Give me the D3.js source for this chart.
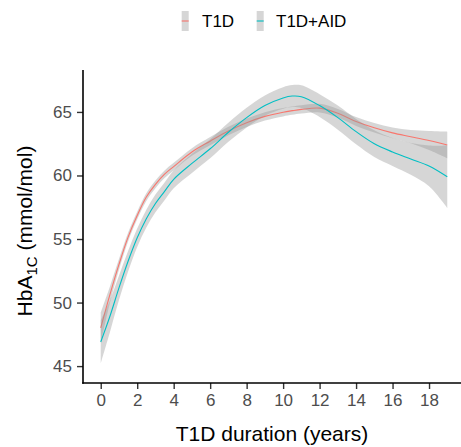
<!DOCTYPE html>
<html>
<head>
<meta charset="utf-8">
<script src="https://cdn.jsdelivr.net/npm/d3@7"></script>
<style>
  html, body { margin: 0; padding: 0; background: #fff; }
  svg { display: block; font-family: "Liberation Sans", Arial, Helvetica, sans-serif; }
</style>
</head>
<body>
<svg id="chart" width="461" height="447"></svg>
<script>
// ---- data ----
const durations = [0, 0.5, 1, 1.5, 2, 2.5, 3, 3.5, 4, 5, 6, 7, 8, 9, 10, 10.5, 11, 12, 13, 14, 15, 16, 17, 18, 19];

const t1dMean = [48.0, 50.6, 53.0, 55.15, 56.85, 58.3, 59.3, 60.1, 60.7, 61.85, 62.7, 63.5, 64.15, 64.65, 64.98, 65.1, 65.2, 65.3, 64.9, 64.25, 63.75, 63.35, 63.05, 62.75, 62.4];
const t1dSe   = [1.2, 0.65, 0.42, 0.34, 0.3, 0.3, 0.3, 0.3, 0.3, 0.3, 0.32, 0.33, 0.33, 0.33, 0.33, 0.33, 0.33, 0.34, 0.34, 0.35, 0.37, 0.42, 0.52, 0.75, 1.05];

const aidMean = [46.9, 48.9, 51.15, 53.25, 55.1, 56.6, 57.8, 58.75, 59.7, 60.95, 62.1, 63.4, 64.55, 65.5, 66.1, 66.25, 66.2, 65.5, 64.55, 63.45, 62.5, 61.85, 61.3, 60.75, 59.9];
const aidSe   = [1.7, 1.25, 0.95, 0.8, 0.72, 0.7, 0.7, 0.7, 0.7, 0.75, 0.75, 0.75, 0.78, 0.8, 0.85, 0.87, 0.9, 0.9, 0.95, 1.0, 1.05, 1.1, 1.25, 1.6, 2.45];

const seriesNames = ["T1D", "T1D+AID"];
const seriesColors = ["#F8766D", "#00BFC4"];
const xTicks = [0, 2, 4, 6, 8, 10, 12, 14, 16, 18];
const yTicks = [45, 50, 55, 60, 65];

// ---- build ----
const series = [
  { name: seriesNames[0], color: seriesColors[0], mean: t1dMean, se: t1dSe },
  { name: seriesNames[1], color: seriesColors[1], mean: aidMean, se: aidSe }
].map(s => ({
  ...s,
  pts: durations.map((d, i) => ({ x: d, y: s.mean[i], lo: s.mean[i] - s.se[i], hi: s.mean[i] + s.se[i] }))
}));

const svg = d3.select("#chart");
const x = d3.scaleLinear().domain([-0.95, 19.95]).range([83.4, 464.6]);
const y = d3.scaleLinear().domain([43.67, 68.3]).range([383, 70]);

const ribbonFill = "#999999";
const curve = d3.curveCatmullRom.alpha(0.5);

const area = d3.area().curve(curve).x(d => x(d.x)).y0(d => y(d.lo)).y1(d => y(d.hi));
const line = d3.line().curve(curve).x(d => x(d.x)).y(d => y(d.y));

const plot = svg.append("g");
series.forEach(s => {
  plot.append("path").datum(s.pts).attr("d", area)
    .attr("fill", ribbonFill).attr("fill-opacity", 0.4).attr("stroke", "none");
  plot.append("path").datum(s.pts).attr("d", line)
    .attr("fill", "none").attr("stroke", s.color).attr("stroke-width", 1.1);
});

// axes
const axisColor = "#000";
const tickColor = "#4D4D4D";

const xAxis = svg.append("g").attr("transform", `translate(0,${y.range()[0]})`)
  .call(d3.axisBottom(x).tickValues(xTicks).tickSize(6).tickPadding(5).tickSizeOuter(0));
xAxis.select(".domain").remove();
svg.append("line").attr("x1", 82.2).attr("x2", 461).attr("y1", y.range()[0]).attr("y2", y.range()[0])
  .attr("stroke", axisColor).attr("stroke-width", 1.6);

const yAxis = svg.append("g").attr("transform", `translate(${x.range()[0] - 0.4},0)`)
  .call(d3.axisLeft(y).tickValues(yTicks).tickSize(6).tickPadding(5).tickSizeOuter(0));
yAxis.select(".domain").remove();
svg.append("line").attr("x1", 83).attr("x2", 83).attr("y1", 70).attr("y2", y.range()[0] + 0.8)
  .attr("stroke", axisColor).attr("stroke-width", 1.6);

[xAxis, yAxis].forEach(g => {
  g.selectAll(".tick line").attr("stroke", "#333").attr("stroke-width", 1.4);
  g.selectAll(".tick text").attr("fill", tickColor).style("font-size", "17px")
    .style("font-family", '"Liberation Sans", Arial, sans-serif');
});

// axis titles
svg.append("text").attr("x", 272).attr("y", 441).attr("text-anchor", "middle")
  .style("font-size", "21px").attr("fill", "#000").text("T1D duration (years)");

const yl = svg.append("text").attr("transform", "translate(32,231) rotate(-90)")
  .attr("text-anchor", "middle").style("font-size", "21px").attr("fill", "#000");
yl.append("tspan").text("HbA");
yl.append("tspan").attr("dy", 5).style("font-size", "15px").text("1C");
yl.append("tspan").attr("dy", -5).text(" (mmol/mol)");

// legend
const legendItems = [
  { name: seriesNames[0], color: seriesColors[0], kx: 181.7, tx: 202 },
  { name: seriesNames[1], color: seriesColors[1], kx: 256.7, tx: 276 }
];
legendItems.forEach(it => {
  svg.append("rect").attr("x", it.kx).attr("y", 11).attr("width", 7).attr("height", 20)
    .attr("fill", ribbonFill).attr("fill-opacity", 0.4);
  svg.append("line").attr("x1", it.kx).attr("x2", it.kx + 7).attr("y1", 21).attr("y2", 21)
    .attr("stroke", it.color).attr("stroke-width", 1.1);
  svg.append("text").attr("x", it.tx).attr("y", 27).style("font-size", "17px").attr("fill", "#000").text(it.name);
});
</script>
</body>
</html>
